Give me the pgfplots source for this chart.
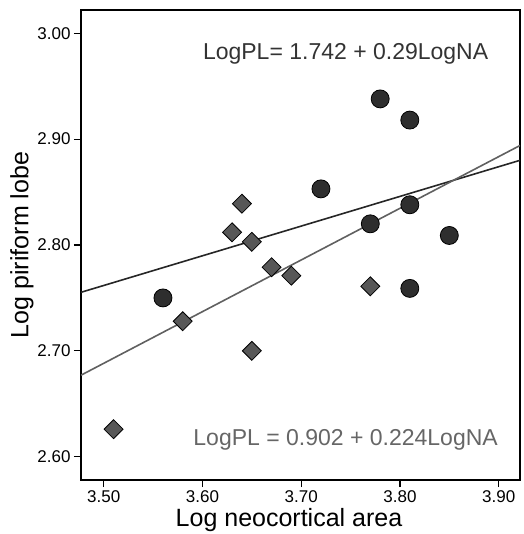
\documentclass[border=0pt]{standalone}
\usepackage{fontspec}
\setmainfont{Liberation Sans}
\usepackage{pgfplots}
\pgfplotsset{compat=1.18}

\definecolor{circfill}{HTML}{2E2E2E}
\definecolor{diafill}{HTML}{575757}
\definecolor{darkline}{HTML}{262626}
\definecolor{grayline}{HTML}{606060}
\definecolor{eqtop}{HTML}{333333}
\definecolor{eqbot}{HTML}{666666}

\begin{document}
\begin{tikzpicture}
\path[use as bounding box] (-81pt,-54pt) rectangle (442pt,480pt);
\begin{axis}[
  at={(0pt,0pt)}, anchor=south west,
  scale only axis, width=439pt, height=470pt,
  xmin=3.477, xmax=3.9216, ymin=2.578, ymax=3.022,
  xtick={3.5,3.6,3.7,3.8,3.9},
  ytick={2.6,2.7,2.8,2.9,3.0},
  xtick pos=left, ytick pos=left,
  tick align=outside, major tick length=7pt,
  tick style={line width=1.2pt, black},
  axis line style={line width=1.2pt},
  /pgf/number format/assume math mode=true,
  /pgf/number format/.cd, fixed, fixed zerofill, precision=2, /pgfplots/.cd,
  tick label style={font=\fontsize{17}{19}\selectfont},
  xlabel={Log neocortical area},
  ylabel={Log piriform lobe},
  label style={font=\fontsize{25}{29}\selectfont},
  xlabel style={at={(axis description cs:0.4738,-0.0851)}, anchor=center},
  ylabel style={at={(axis description cs:-0.1344,0.5)}, anchor=center},
]
% group 1: circles
\addplot[only marks, mark=*, mark size=9pt,
  mark options={fill=circfill, draw=black, line width=0.8pt}] coordinates {
  (3.56,2.750) (3.72,2.853) (3.78,2.938) (3.81,2.918)
  (3.77,2.820) (3.81,2.838) (3.81,2.759) (3.85,2.809)
};
% group 2: diamonds
\addplot[only marks, mark=square*, mark size=6.7pt,
  mark options={rotate=45, fill=diafill, draw=black, line width=0.8pt}] coordinates {
  (3.51,2.626) (3.58,2.728) (3.64,2.839) (3.63,2.812) (3.65,2.803)
  (3.67,2.779) (3.69,2.771) (3.65,2.700) (3.77,2.761)
};
% fit lines
\addplot[no marks, darkline, line width=1.6pt] coordinates {(3.477,2.7553) (3.9216,2.880)};
\addplot[no marks, grayline, line width=1.6pt] coordinates {(3.477,2.677) (3.9216,2.894)};

\node[font=\fontsize{23}{26}\selectfont, text=eqtop] at (axis cs:3.745,2.9805) {LogPL= 1.742 + 0.29LogNA};
\node[font=\fontsize{23}{26}\selectfont, text=eqbot] at (axis cs:3.745,2.6163) {LogPL = 0.902 + 0.224LogNA};
\end{axis}
\end{tikzpicture}
\end{document}
